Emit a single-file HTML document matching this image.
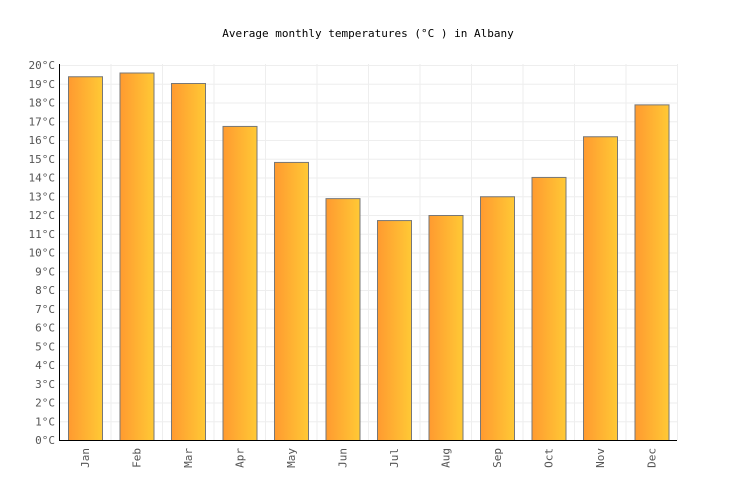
<!DOCTYPE html>
<html><head><meta charset="utf-8"><style>body{margin:0;background:#fff}svg{display:block}</style></head>
<body>
<svg id="c" width="736" height="500" xmlns="http://www.w3.org/2000/svg" font-family="'DejaVu Sans Mono','Liberation Mono',monospace">
<defs><linearGradient id="g" x1="0" x2="1" y1="0" y2="0"><stop offset="0" stop-color="#ff9a30"/><stop offset="1" stop-color="#ffc935"/></linearGradient></defs>
<text x="368" y="37" text-anchor="middle" font-size="11" fill="#000">Average monthly temperatures (°C ) in Albany</text>
<g id="grid"></g><g id="bars"></g><g id="lab"></g>
<line x1="59.5" y1="64" x2="59.5" y2="440.5" stroke="#000" stroke-width="1"/>
<line x1="59" y1="440.5" x2="677" y2="440.5" stroke="#000" stroke-width="1"/>
</svg>
<script>
var ns="http://www.w3.org/2000/svg",grid=document.getElementById('grid'),bars=document.getElementById('bars'),lab=document.getElementById('lab');
function el(p,t,a,txt){var e=document.createElementNS(ns,t);for(var k in a)e.setAttribute(k,a[k]);if(txt)e.textContent=txt;p.appendChild(e);}
for(var i=0;i<=20;i++){var y=440-i*18.75;if(i>0)el(grid,'line',{x1:59,x2:677,y1:y+.5,y2:y+.5,stroke:'#eee'});
el(lab,'text',{x:55,y:y+4,'text-anchor':'end','font-size':11,fill:'#555'},i+'°C');}
var m=['Jan','Feb','Mar','Apr','May','Jun','Jul','Aug','Sep','Oct','Nov','Dec'],v=[19.4,19.6,19.04,16.75,14.83,12.9,11.73,12,13.0,14.03,16.2,17.9],w=51.5;
for(var i=1;i<=12;i++)el(grid,'line',{x1:59+i*w+.5,x2:59+i*w+.5,y1:64,y2:440,stroke:'#eee'});
for(var i=0;i<12;i++){var x=59+i*w+9.5,h=v[i]*18.75;
el(bars,'rect',{x:x,y:440.5-h,width:34,height:h,fill:'url(#g)',stroke:'#777','stroke-width':1});
var cx=59+i*w+w/2+4;el(lab,'text',{x:cx,y:448,'text-anchor':'end','font-size':11,fill:'#555',transform:'rotate(-90 '+cx+' 448)'},m[i]);}
</script>
</body></html>
